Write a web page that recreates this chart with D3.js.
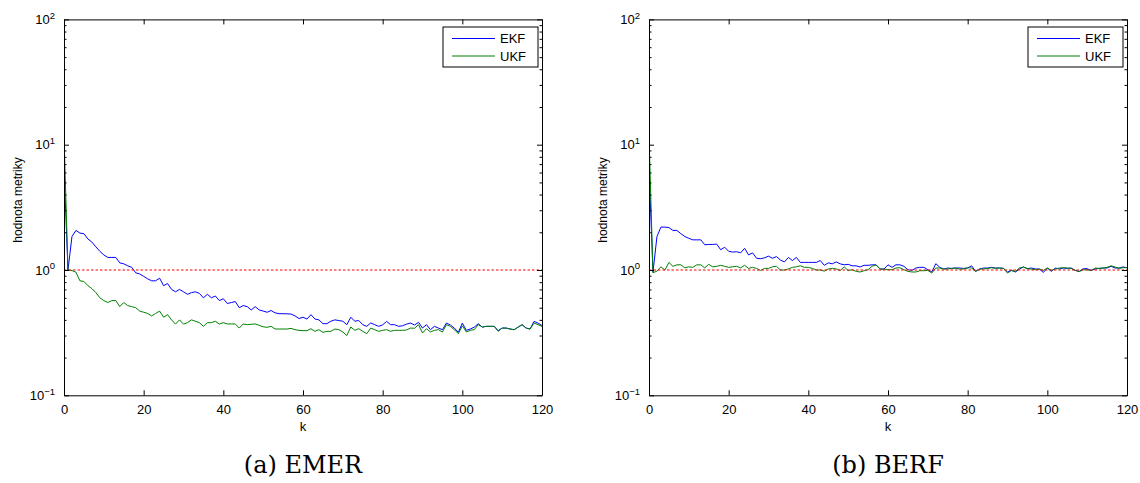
<!DOCTYPE html>
<html>
<head>
<meta charset="utf-8">
<script src="https://cdn.jsdelivr.net/npm/d3@7"></script>
<style>
  body { margin: 0; background: #fff; }
  svg { display: block; }
  .axis text { font-family: "Liberation Sans", Arial, sans-serif; font-size: 13px; fill: #000; }
  .axis path, .axis line { stroke: #000; }
</style>
</head>
<body>
<div id="chart"></div>
<script>
// k = 0..120
const kValues = d3.range(0, 121);

// (a) EMER
const emerEkf = [
  6.5, 1.0, 1.85, 2.07, 1.97, 1.95, 1.77, 1.67, 1.53, 1.41,
  1.32, 1.26, 1.26, 1.26, 1.14, 1.12, 1.08, 1.05, 0.95, 0.93,
  0.89, 0.85, 0.82, 0.82, 0.86, 0.75, 0.78, 0.70, 0.67, 0.70,
  0.67, 0.64, 0.66, 0.67, 0.65, 0.60, 0.64, 0.60, 0.62, 0.57,
  0.59, 0.54, 0.55, 0.56, 0.50, 0.52, 0.51, 0.48, 0.51, 0.48,
  0.47, 0.46, 0.475, 0.455, 0.448, 0.448, 0.447, 0.445, 0.43, 0.41,
  0.42, 0.406, 0.44, 0.406, 0.40, 0.373, 0.373, 0.39, 0.40, 0.395,
  0.39, 0.366, 0.42, 0.39, 0.395, 0.366, 0.355, 0.378, 0.366, 0.355,
  0.365, 0.389, 0.366, 0.366, 0.355, 0.359, 0.37, 0.377, 0.364, 0.382,
  0.344, 0.366, 0.334, 0.355, 0.344, 0.334, 0.377, 0.364, 0.344, 0.318,
  0.377, 0.33, 0.338, 0.35, 0.373, 0.35, 0.355, 0.355, 0.355, 0.328,
  0.344, 0.344, 0.338, 0.334, 0.35, 0.366, 0.344, 0.338, 0.389, 0.377,
  0.36
];
const emerUkf = [
  12, 1.0, 0.99, 0.96, 0.82, 0.81, 0.75, 0.71, 0.66, 0.60,
  0.57, 0.55, 0.57, 0.57, 0.51, 0.55, 0.52, 0.51, 0.50, 0.47,
  0.46, 0.45, 0.43, 0.45, 0.47, 0.42, 0.44, 0.40, 0.37, 0.40,
  0.37, 0.38, 0.40, 0.39, 0.38, 0.355, 0.38, 0.38, 0.39, 0.37,
  0.38, 0.371, 0.371, 0.371, 0.344, 0.371, 0.366, 0.369, 0.371, 0.362,
  0.352, 0.349, 0.355, 0.338, 0.338, 0.338, 0.338, 0.342, 0.334, 0.33,
  0.328, 0.328, 0.34, 0.324, 0.334, 0.318, 0.324, 0.324, 0.338, 0.334,
  0.32, 0.30, 0.351, 0.33, 0.34, 0.324, 0.31, 0.344, 0.334, 0.324,
  0.33, 0.334, 0.324, 0.33, 0.33, 0.33, 0.332, 0.344, 0.343, 0.366,
  0.314, 0.34, 0.32, 0.33, 0.334, 0.32, 0.366, 0.355, 0.334, 0.31,
  0.359, 0.32, 0.33, 0.334, 0.366, 0.351, 0.355, 0.355, 0.355, 0.324,
  0.344, 0.344, 0.338, 0.334, 0.35, 0.366, 0.344, 0.338, 0.377, 0.366,
  0.355
];

// (b) BERF
const berfEkf = [
  6.6, 0.96, 1.85, 2.2, 2.2, 2.18, 2.07, 2.07, 1.95, 1.85,
  1.79, 1.74, 1.74, 1.74, 1.59, 1.6, 1.6, 1.61, 1.45, 1.52,
  1.41, 1.39, 1.40, 1.37, 1.49, 1.32, 1.37, 1.24, 1.23, 1.25,
  1.29, 1.24, 1.28, 1.20, 1.16, 1.26, 1.19, 1.26, 1.15, 1.15,
  1.15, 1.15, 1.15, 1.19, 1.09, 1.14, 1.12, 1.16, 1.12, 1.10,
  1.11, 1.08, 1.08, 1.057, 1.09, 1.09, 1.10, 1.10, 1.018, 1.018,
  1.10, 1.05, 1.10, 1.10, 1.07, 1.005, 0.993, 1.037, 1.05, 1.05,
  1.005, 0.964, 1.123, 1.05, 1.018, 1.037, 1.03, 1.037, 1.037, 1.03,
  1.037, 1.08, 0.975, 1.018, 1.037, 1.037, 1.05, 1.037, 1.037, 1.03,
  0.964, 0.993, 0.964, 1.018, 1.057, 1.024, 1.037, 1.018, 1.018, 0.957,
  1.037, 0.975, 1.037, 1.018, 1.037, 1.03, 1.037, 0.993, 0.975, 1.024,
  1.024, 0.993, 1.018, 1.03, 1.037, 1.037, 1.07, 1.037, 1.037, 1.057,
  1.043
];
const berfUkf = [
  12, 0.95, 0.98, 1.06, 1.0, 1.15, 1.07, 1.10, 1.10, 1.04,
  1.06, 1.05, 1.10, 1.10, 1.04, 1.11, 1.06, 1.07, 1.09, 1.07,
  1.05, 1.06, 1.07, 1.04, 1.09, 1.03, 1.05, 1.03, 0.99, 1.03,
  1.03, 1.06, 1.07, 1.00, 1.00, 1.02, 1.05, 1.06, 1.08, 1.05,
  1.05, 1.03, 1.00, 1.00, 0.98, 1.02, 1.03, 1.02, 0.99, 1.06,
  0.99, 1.005, 0.975, 0.964, 0.987, 1.005, 1.07, 1.10, 1.018, 1.018,
  1.005, 1.005, 1.037, 1.043, 1.005, 0.975, 0.964, 0.964, 0.987, 0.987,
  0.993, 0.946, 1.037, 1.037, 1.018, 1.018, 1.03, 1.037, 1.018, 1.018,
  1.043, 1.037, 0.975, 1.018, 1.018, 1.03, 1.043, 1.03, 1.037, 1.03,
  0.946, 0.993, 0.975, 1.037, 1.057, 1.024, 1.018, 1.005, 1.018, 0.993,
  1.037, 0.993, 1.018, 1.037, 1.043, 1.037, 1.03, 0.993, 0.97, 1.005,
  1.005, 0.987, 1.037, 1.03, 1.037, 1.05, 1.08, 1.057, 1.03, 1.043,
  1.043
];

// axis ticks / labels
const xTicks = [0, 20, 40, 60, 80, 100, 120];
const yMajor = [0.1, 1, 10, 100];
const yMinor = [2, 3, 4, 5, 6, 7, 8, 9].flatMap(m => [0.1 * m, m, 10 * m]);
const seriesNames = ["EKF", "UKF"];
const seriesColors = ["#0000ff", "#008000"];
const yLabel = "hodnota metriky";
const xLabel = "k";

const panels = [
  { left: 64, caption: "(a) EMER", series: [emerEkf, emerUkf] },
  { left: 649, caption: "(b) BERF", series: [berfEkf, berfUkf] }
];

const width = 1140, height = 483;
const plotW = 478, plotTop = 19.4, plotBottom = 395.3;

const svg = d3.select("#chart").append("svg")
    .attr("width", width)
    .attr("height", height)
    .style("background", "#fff");

const supExp = d => {
    const e = Math.round(Math.log10(d));
    return e < 0 ? "\u2212" + Math.abs(e) : String(e);
};

panels.forEach((p, i) => {
    const x = d3.scaleLinear().domain([0, 120]).range([p.left, p.left + plotW]);
    const y = d3.scaleLog().domain([0.1, 100]).range([plotBottom, plotTop]);
    const g = svg.append("g");

    g.append("clipPath").attr("id", "clip" + i)
      .append("rect")
        .attr("x", p.left).attr("y", plotTop)
        .attr("width", plotW).attr("height", plotBottom - plotTop);

    const lines = g.append("g").attr("clip-path", `url(#clip${i})`);
    const line = d3.line().x((d, j) => x(kValues[j])).y(d => y(d));

    p.series.forEach((s, j) => {
        lines.append("path")
            .datum(s)
            .attr("fill", "none")
            .attr("stroke", seriesColors[j])
            .attr("stroke-width", 1)
            .attr("d", line);
    });

    // reference line at 1
    lines.append("line")
        .attr("x1", x(0)).attr("x2", x(120))
        .attr("y1", y(1)).attr("y2", y(1))
        .attr("stroke", "#ff0000")
        .attr("stroke-width", 1)
        .attr("stroke-dasharray", "2.5,2");

    // axes, ticks inward (matlab style)
    g.append("g").attr("class", "axis")
        .attr("transform", `translate(0,${plotBottom})`)
        .call(d3.axisBottom(x).tickValues(xTicks).tickSizeInner(-5).tickSizeOuter(0).tickPadding(9));
    g.append("g").attr("class", "axis")
        .attr("transform", `translate(0,${plotTop})`)
        .call(d3.axisTop(x).tickValues(xTicks).tickSizeInner(-5).tickSizeOuter(0).tickFormat(""));

    const yl = g.append("g").attr("class", "axis")
        .attr("transform", `translate(${p.left},0)`)
        .call(d3.axisLeft(y).tickValues(yMajor).tickSizeInner(-5).tickSizeOuter(0).tickPadding(9));
    yl.selectAll(".tick text").each(function(d) {
        const t = d3.select(this).text(null);
        t.append("tspan").text("10");
        t.append("tspan").attr("dy", "-0.55em").attr("font-size", "9.5px").text(supExp(d));
    });
    g.append("g").attr("class", "axis")
        .attr("transform", `translate(${p.left},0)`)
        .call(d3.axisLeft(y).tickValues(yMinor).tickSizeInner(-2.5).tickSizeOuter(0).tickFormat(""))
        .select(".domain").remove();

    g.append("g").attr("class", "axis")
        .attr("transform", `translate(${p.left + plotW},0)`)
        .call(d3.axisRight(y).tickValues(yMajor).tickSizeInner(-5).tickSizeOuter(0).tickFormat(""));
    g.append("g").attr("class", "axis")
        .attr("transform", `translate(${p.left + plotW},0)`)
        .call(d3.axisRight(y).tickValues(yMinor).tickSizeInner(-2.5).tickSizeOuter(0).tickFormat(""))
        .select(".domain").remove();

    // labels
    g.append("text")
        .attr("x", x(60)).attr("y", 431)
        .attr("text-anchor", "middle")
        .style("font-family", "Liberation Sans, Arial, sans-serif")
        .style("font-size", "13px")
        .text(xLabel);
    g.append("text")
        .attr("transform", `translate(${p.left - 42},200) rotate(-90)`)
        .attr("text-anchor", "middle")
        .style("font-family", "Liberation Sans, Arial, sans-serif")
        .style("font-size", "12px")
        .text(yLabel);

    // legend
    const lx = p.left + plotW - 99, ly = 27;
    const lg = g.append("g").attr("transform", `translate(${lx},${ly})`);
    lg.append("rect")
        .attr("width", 95).attr("height", 40)
        .attr("fill", "#fff").attr("stroke", "#000").attr("stroke-width", 1);
    seriesNames.forEach((name, j) => {
        const yy = 11.5 + j * 17.5;
        lg.append("line")
            .attr("x1", 9).attr("x2", 52).attr("y1", yy).attr("y2", yy)
            .attr("stroke", seriesColors[j]).attr("stroke-width", 1);
        lg.append("text")
            .attr("x", 57).attr("y", yy).attr("dy", "0.35em")
            .style("font-family", "Liberation Sans, Arial, sans-serif")
            .style("font-size", "13px")
            .text(name);
    });

    // caption
    g.append("text")
        .attr("x", x(60)).attr("y", 473)
        .attr("text-anchor", "middle")
        .style("font-family", "DejaVu Serif, serif")
        .style("font-size", "24px")
        .text(p.caption);
});
</script>
</body>
</html>
